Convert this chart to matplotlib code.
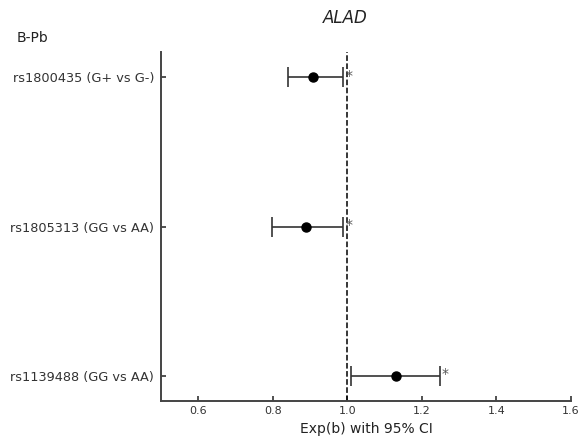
import matplotlib.pyplot as plt

labels = ['rs1139488 (GG vs AA)', 'rs1805313 (GG vs AA)', 'rs1800435 (G+ vs G-)']
estimates = [1.13, 0.89, 0.907]
lower = [1.009, 0.798, 0.840]
upper = [1.248, 0.988, 0.988]
signif = ['*', '*', '*']

fig = plt.figure(figsize=(5.79, 4.37), dpi=100)
ax = fig.add_axes([0.278, 0.082, 0.708, 0.799])

ypos = list(range(len(labels)))
xerr = [[e - l for e, l in zip(estimates, lower)],
        [u - e for e, u in zip(estimates, upper)]]
ax.errorbar(estimates, ypos, xerr=xerr, fmt='o', color='black', ecolor='#333333',
            elinewidth=1.2, capsize=7, capthick=1.2, markersize=6.5)
for y, u, s in zip(ypos, upper, signif):
    ax.text(u + 0.006, y + 0.01, s, color='#555555', fontsize=10, va='center', ha='left')

ax.axvline(1.0, color='black', linestyle='--', linewidth=1.1)

ax.set_xlim(0.5, 1.6)
ax.set_ylim(-0.17, 2.17)
ax.set_yticks(ypos)
ax.set_yticklabels(labels)
ax.set_xticks([0.6, 0.8, 1.0, 1.2, 1.4, 1.6])
ax.tick_params(axis='both', direction='in', colors='#333333', labelsize=9.25, width=1.2)
ax.tick_params(axis='x', labelsize=8)
ax.tick_params(axis='y', pad=5)
ax.set_xlabel('Exp(b) with 95% CI', fontsize=10, color='#222222')
for side in ['top', 'right']:
    ax.spines[side].set_visible(False)
for side in ['left', 'bottom']:
    ax.spines[side].set_color('#444444')
    ax.spines[side].set_linewidth(1.4)

fig.text(345 / 579, 1 - 18 / 437, 'ALAD', fontsize=12, style='italic', ha='center', va='center', color='#222222')
fig.text(17 / 579, 1 - 38 / 437, 'B-Pb', fontsize=10, ha='left', va='center', color='#222222')

fig.savefig('out.png', dpi=100)
